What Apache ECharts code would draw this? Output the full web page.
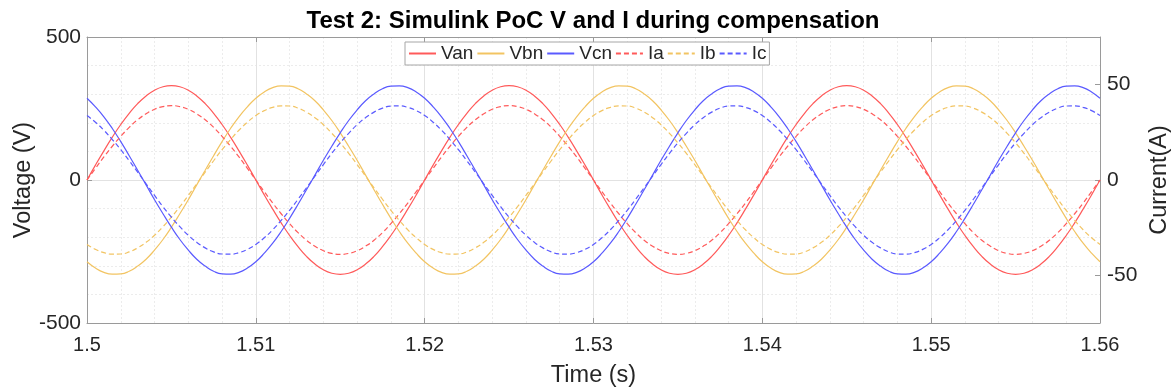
<!DOCTYPE html>
<html>
<head>
<meta charset="utf-8">
<title>Test 2: Simulink PoC V and I during compensation</title>
<script src="https://cdn.jsdelivr.net/npm/echarts@6/dist/echarts.min.js"></script>
<style>
    html, body { margin: 0; padding: 0; background: #fff; }
    #chart { width: 1171px; height: 392px; }
</style>
</head>
<body>
<div id="chart"></div>
<script>
// ======================
// DATA (0.5 ms steps)
// ======================

const time = [
    1.5000, 1.5005, 1.5010, 1.5015, 1.5020, 1.5025, 1.5030, 1.5035, 1.5040, 1.5045,
    1.5050, 1.5055, 1.5060, 1.5065, 1.5070, 1.5075, 1.5080, 1.5085, 1.5090, 1.5095,
    1.5100, 1.5105, 1.5110, 1.5115, 1.5120, 1.5125, 1.5130, 1.5135, 1.5140, 1.5145,
    1.5150, 1.5155, 1.5160, 1.5165, 1.5170, 1.5175, 1.5180, 1.5185, 1.5190, 1.5195,
    1.5200, 1.5205, 1.5210, 1.5215, 1.5220, 1.5225, 1.5230, 1.5235, 1.5240, 1.5245,
    1.5250, 1.5255, 1.5260, 1.5265, 1.5270, 1.5275, 1.5280, 1.5285, 1.5290, 1.5295,
    1.5300, 1.5305, 1.5310, 1.5315, 1.5320, 1.5325, 1.5330, 1.5335, 1.5340, 1.5345,
    1.5350, 1.5355, 1.5360, 1.5365, 1.5370, 1.5375, 1.5380, 1.5385, 1.5390, 1.5395,
    1.5400, 1.5405, 1.5410, 1.5415, 1.5420, 1.5425, 1.5430, 1.5435, 1.5440, 1.5445,
    1.5450, 1.5455, 1.5460, 1.5465, 1.5470, 1.5475, 1.5480, 1.5485, 1.5490, 1.5495,
    1.5500, 1.5505, 1.5510, 1.5515, 1.5520, 1.5525, 1.5530, 1.5535, 1.5540, 1.5545,
    1.5550, 1.5555, 1.5560, 1.5565, 1.5570, 1.5575, 1.5580, 1.5585, 1.5590, 1.5595,
    1.5600
];

// voltages (V)
const van = [
    0, 52, 102, 150, 194, 233, 267, 294, 314, 326, 330, 326, 314, 294, 267, 233, 194, 150, 102, 52,
    0, -52, -102, -150, -194, -233, -267, -294, -314, -326, -330, -326, -314, -294, -267, -233, -194, -150, -102, -52,
    0, 52, 102, 150, 194, 233, 267, 294, 314, 326, 330, 326, 314, 294, 267, 233, 194, 150, 102, 52,
    0, -52, -102, -150, -194, -233, -267, -294, -314, -326, -330, -326, -314, -294, -267, -233, -194, -150, -102, -52,
    0, 52, 102, 150, 194, 233, 267, 294, 314, 326, 330, 326, 314, 294, 267, 233, 194, 150, 102, 52,
    0, -52, -102, -150, -194, -233, -267, -294, -314, -326, -330, -326, -314, -294, -267, -233, -194, -150, -102, -52,
    0
];
const vbn = [
    -286, -308, -323, -329, -328, -319, -301, -277, -245, -208, -165, -118, -69, -17, 34, 85, 134, 180, 221, 256,
    286, 308, 323, 329, 328, 319, 301, 277, 245, 208, 165, 118, 69, 17, -34, -85, -134, -180, -221, -256,
    -286, -308, -323, -329, -328, -319, -301, -277, -245, -208, -165, -118, -69, -17, 34, 85, 134, 180, 221, 256,
    286, 308, 323, 329, 328, 319, 301, 277, 245, 208, 165, 118, 69, 17, -34, -85, -134, -180, -221, -256,
    -286, -308, -323, -329, -328, -319, -301, -277, -245, -208, -165, -118, -69, -17, 34, 85, 134, 180, 221, 256,
    286, 308, 323, 329, 328, 319, 301, 277, 245, 208, 165, 118, 69, 17, -34, -85, -134, -180, -221, -256,
    -286
];
const vcn = [
    286, 256, 221, 180, 134, 85, 34, -17, -69, -118, -165, -208, -245, -277, -301, -319, -328, -329, -323, -308,
    -286, -256, -221, -180, -134, -85, -34, 17, 69, 118, 165, 208, 245, 277, 301, 319, 328, 329, 323, 308,
    286, 256, 221, 180, 134, 85, 34, -17, -69, -118, -165, -208, -245, -277, -301, -319, -328, -329, -323, -308,
    -286, -256, -221, -180, -134, -85, -34, 17, 69, 118, 165, 208, 245, 277, 301, 319, 328, 329, 323, 308,
    286, 256, 221, 180, 134, 85, 34, -17, -69, -118, -165, -208, -245, -277, -301, -319, -328, -329, -323, -308,
    -286, -256, -221, -180, -134, -85, -34, 17, 69, 118, 165, 208, 245, 277, 301, 319, 328, 329, 323, 308,
    286
];

// currents (A)
const ia = [
    0, 6.1, 12.1, 17.7, 22.9, 27.6, 31.6, 34.7, 37.1, 38.5, 39, 38.5, 37.1, 34.7, 31.6, 27.6, 22.9, 17.7, 12.1, 6.1,
    0, -6.1, -12.1, -17.7, -22.9, -27.6, -31.6, -34.7, -37.1, -38.5, -39, -38.5, -37.1, -34.7, -31.6, -27.6, -22.9, -17.7, -12.1, -6.1,
    0, 6.1, 12.1, 17.7, 22.9, 27.6, 31.6, 34.7, 37.1, 38.5, 39, 38.5, 37.1, 34.7, 31.6, 27.6, 22.9, 17.7, 12.1, 6.1,
    0, -6.1, -12.1, -17.7, -22.9, -27.6, -31.6, -34.7, -37.1, -38.5, -39, -38.5, -37.1, -34.7, -31.6, -27.6, -22.9, -17.7, -12.1, -6.1,
    0, 6.1, 12.1, 17.7, 22.9, 27.6, 31.6, 34.7, 37.1, 38.5, 39, 38.5, 37.1, 34.7, 31.6, 27.6, 22.9, 17.7, 12.1, 6.1,
    0, -6.1, -12.1, -17.7, -22.9, -27.6, -31.6, -34.7, -37.1, -38.5, -39, -38.5, -37.1, -34.7, -31.6, -27.6, -22.9, -17.7, -12.1, -6.1,
    0
];
const ib = [
    -33.8, -36.4, -38.1, -38.9, -38.8, -37.7, -35.6, -32.7, -29.0, -24.5, -19.5, -14.0, -8.1, -2.0, 4.1, 10.1, 15.9, 21.2, 26.1, 30.3,
    33.8, 36.4, 38.1, 38.9, 38.8, 37.7, 35.6, 32.7, 29.0, 24.5, 19.5, 14.0, 8.1, 2.0, -4.1, -10.1, -15.9, -21.2, -26.1, -30.3,
    -33.8, -36.4, -38.1, -38.9, -38.8, -37.7, -35.6, -32.7, -29.0, -24.5, -19.5, -14.0, -8.1, -2.0, 4.1, 10.1, 15.9, 21.2, 26.1, 30.3,
    33.8, 36.4, 38.1, 38.9, 38.8, 37.7, 35.6, 32.7, 29.0, 24.5, 19.5, 14.0, 8.1, 2.0, -4.1, -10.1, -15.9, -21.2, -26.1, -30.3,
    -33.8, -36.4, -38.1, -38.9, -38.8, -37.7, -35.6, -32.7, -29.0, -24.5, -19.5, -14.0, -8.1, -2.0, 4.1, 10.1, 15.9, 21.2, 26.1, 30.3,
    33.8, 36.4, 38.1, 38.9, 38.8, 37.7, 35.6, 32.7, 29.0, 24.5, 19.5, 14.0, 8.1, 2.0, -4.1, -10.1, -15.9, -21.2, -26.1, -30.3,
    -33.8
];
const ic = [
    33.8, 30.3, 26.1, 21.2, 15.9, 10.1, 4.1, -2.0, -8.1, -14.0, -19.5, -24.5, -29.0, -32.7, -35.6, -37.7, -38.8, -38.9, -38.1, -36.4,
    -33.8, -30.3, -26.1, -21.2, -15.9, -10.1, -4.1, 2.0, 8.1, 14.0, 19.5, 24.5, 29.0, 32.7, 35.6, 37.7, 38.8, 38.9, 38.1, 36.4,
    33.8, 30.3, 26.1, 21.2, 15.9, 10.1, 4.1, -2.0, -8.1, -14.0, -19.5, -24.5, -29.0, -32.7, -35.6, -37.7, -38.8, -38.9, -38.1, -36.4,
    -33.8, -30.3, -26.1, -21.2, -15.9, -10.1, -4.1, 2.0, 8.1, 14.0, 19.5, 24.5, 29.0, 32.7, 35.6, 37.7, 38.8, 38.9, 38.1, 36.4,
    33.8, 30.3, 26.1, 21.2, 15.9, 10.1, 4.1, -2.0, -8.1, -14.0, -19.5, -24.5, -29.0, -32.7, -35.6, -37.7, -38.8, -38.9, -38.1, -36.4,
    -33.8, -30.3, -26.1, -21.2, -15.9, -10.1, -4.1, 2.0, 8.1, 14.0, 19.5, 24.5, 29.0, 32.7, 35.6, 37.7, 38.8, 38.9, 38.1, 36.4,
    33.8
];

const currentTicks = [-50, 0, 50];

// ======================
// STYLE
// ======================

const FONT = 'Liberation Sans, Arial, sans-serif';
const TEXT = '#262626';
const AXIS = '#9a9a9a';
const RED = '#ff5a5a';
const YELLOW = '#f2c462';
const BLUE = '#5a5aff';

function pairs(ys) {
    return time.map((t, i) => [t, ys[i]]);
}

function line(name, ys, color, dashed, yAxisIndex) {
    return {
        name: name,
        type: 'line',
        yAxisIndex: yAxisIndex,
        data: pairs(ys),
        smooth: true,
        symbol: 'none',
        lineStyle: { color: color, width: 1.2, type: dashed ? [5, 3] : 'solid' },
        itemStyle: { color: color },
        animation: false
    };
}

// ======================
// CHART
// ======================

const chart = echarts.init(document.getElementById('chart'), null, { renderer: 'canvas' });

const option = {
    backgroundColor: '#fff',
    animation: false,
    title: {
        text: 'Test 2: Simulink PoC V and I during compensation',
        left: 588,
        textAlign: 'center',
        top: 4,
        textStyle: { fontFamily: FONT, fontSize: 24, fontWeight: 'bold', color: '#000' }
    },
    legend: {
        left: 405,
        top: 42,
        padding: [2, 3],
        itemGap: 3,
        itemWidth: 27,
        itemHeight: 14,
        backgroundColor: '#fff',
        borderColor: '#a6a6a6',
        borderWidth: 1,
        itemStyle: { opacity: 0 },
        textStyle: { fontFamily: FONT, fontSize: 19, color: TEXT },
        data: ['Van', 'Vbn', 'Vcn', 'Ia', 'Ib', 'Ic']
    },
    grid: { left: 87, right: 71, top: 37, bottom: 69, outerBoundsMode: 'none' },
    xAxis: [{
        type: 'value',
        min: 1.5,
        max: 1.56,
        interval: 0.01,
        name: 'Time (s)',
        nameLocation: 'middle',
        nameGap: 41,
        nameMoveOverlap: false,
        nameTextStyle: { fontFamily: FONT, fontSize: 23.5, color: TEXT },
        axisLine: { show: true, onZero: false, lineStyle: { color: AXIS, width: 1 } },
        axisTick: { show: true, inside: true, length: 5, lineStyle: { color: AXIS } },
        axisLabel: {
            fontFamily: FONT, fontSize: 20, color: TEXT, margin: 12,
            formatter: v => String(parseFloat(v.toFixed(2)))
        },
        splitLine: { show: true, lineStyle: { color: '#e2e2e2', width: 1 } },
        minorTick: { show: false, splitNumber: 5 },
        minorSplitLine: { show: true, lineStyle: { color: '#ececec', width: 1, type: [2, 2] } }
    }, {
        type: 'value',
        position: 'top',
        min: 1.5,
        max: 1.56,
        interval: 0.01,
        axisLine: { show: true, onZero: false, lineStyle: { color: AXIS, width: 1 } },
        axisTick: { show: true, inside: true, length: 5, lineStyle: { color: AXIS } },
        axisLabel: { show: false },
        splitLine: { show: false }
    }],
    yAxis: [{
        type: 'value',
        min: -500,
        max: 500,
        interval: 500,
        name: 'Voltage (V)',
        nameLocation: 'middle',
        nameGap: 51,
        nameMoveOverlap: false,
        nameTextStyle: { fontFamily: FONT, fontSize: 23.5, color: TEXT },
        axisLine: { show: true, onZero: false, lineStyle: { color: AXIS, width: 1 } },
        axisTick: { show: true, inside: true, length: 5, lineStyle: { color: AXIS } },
        axisLabel: { fontFamily: FONT, fontSize: 21, color: TEXT, margin: 6 },
        splitLine: { show: true, lineStyle: { color: '#e2e2e2', width: 1 } },
        minorTick: { show: false, splitNumber: 5 },
        minorSplitLine: { show: true, lineStyle: { color: '#ececec', width: 1, type: [2, 2] } }
    }, {
        type: 'value',
        position: 'right',
        min: -75,
        max: 75,
        name: 'Current(A)',
        nameLocation: 'middle',
        nameGap: 48,
        nameMoveOverlap: false,
        nameTextStyle: { fontFamily: FONT, fontSize: 23.5, color: TEXT },
        axisLine: { show: true, onZero: false, lineStyle: { color: AXIS, width: 1 } },
        axisTick: { show: true, inside: true, length: 5, lineStyle: { color: AXIS }, customValues: currentTicks },
        axisLabel: { fontFamily: FONT, fontSize: 21, color: TEXT, margin: 7, customValues: currentTicks },
        splitLine: { show: false }
    }],
    series: [
        line('Van', van, RED, false, 0),
        line('Vbn', vbn, YELLOW, false, 0),
        line('Vcn', vcn, BLUE, false, 0),
        line('Ia', ia, RED, true, 1),
        line('Ib', ib, YELLOW, true, 1),
        line('Ic', ic, BLUE, true, 1)
    ]
};

chart.setOption(option);
</script>
</body>
</html>
